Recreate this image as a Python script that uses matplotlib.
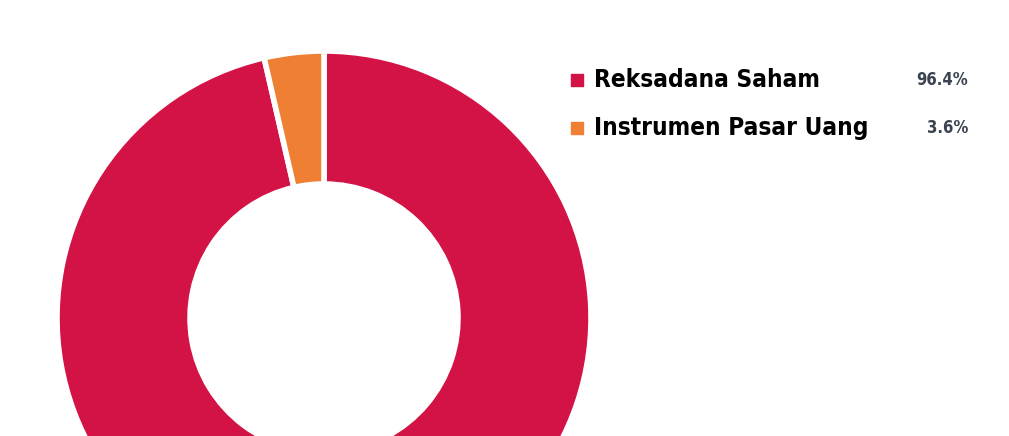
import matplotlib.pyplot as plt

# -----------------------------
# Data
# -----------------------------
labels = ["Reksadana Saham", "Instrumen Pasar Uang"]
values = [96.4, 3.6]
value_labels = ["96.4%", "3.6%"]
colors = ["#D31245", "#EE7F33"]

# -----------------------------
# Figure (axes in pixel units)
# -----------------------------
W, H = 1009, 436
fig = plt.figure(figsize=(W / 100, H / 100), dpi=100)
ax = fig.add_axes([0, 0, 1, 1])

ax.pie(
    values,
    colors=colors,
    startangle=90,
    counterclock=False,
    center=(324, H - 318),
    radius=267,
    wedgeprops=dict(width=133, edgecolor="white", linewidth=4),
    frame=True,
)
ax.set_xlim(0, W)
ax.set_ylim(0, H)
ax.set_aspect("equal")
ax.axis("off")

# -----------------------------
# Legend
# -----------------------------
rows_y = [H - 80, H - 128]
for lab, val, col, y in zip(labels, value_labels, colors, rows_y):
    ax.add_patch(plt.Rectangle((571, y - 6), 12, 12, color=col))
    ax.text(594, y, lab, fontsize=17.5, fontweight="bold", family="DejaVu Sans",
            stretch="condensed", color="black", va="center", ha="left")
    ax.text(968, y, val, fontsize=12, fontweight="bold", family="DejaVu Sans",
            stretch="condensed", color="#3A4350", va="center", ha="right")

fig.savefig("out.png", dpi=100)
